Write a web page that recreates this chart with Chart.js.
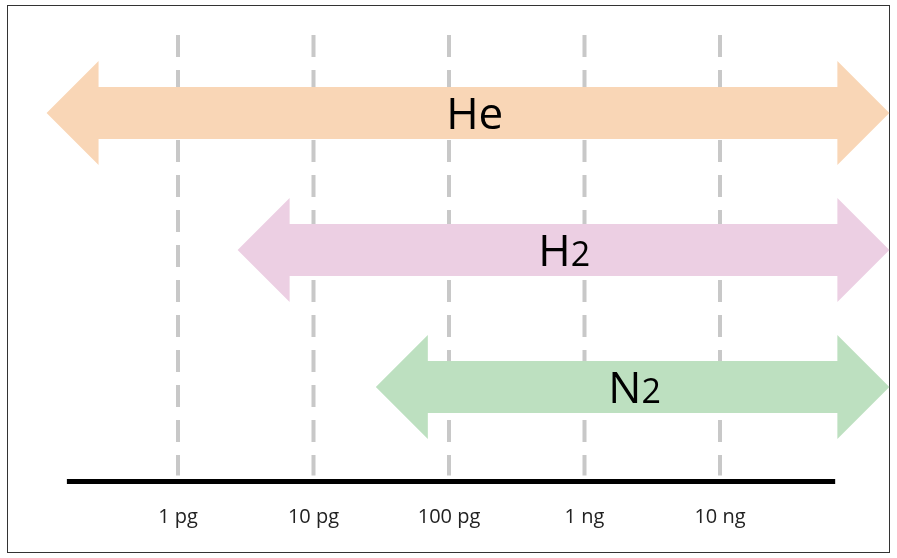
<!DOCTYPE html>
<html>
<head>
<meta charset="utf-8">
<script src="https://cdn.jsdelivr.net/npm/chart.js@4"></script>
<style>
  html, body { margin: 0; padding: 0; background: #fff; }
  #wrap { width: 897px; height: 558px; }
</style>
</head>
<body>
<div id="wrap"><canvas id="chart"></canvas></div>
<script>
// rows, log10 of mass in pg (0 = 1 pg)
const gases = ['He', 'H2', 'N2'];
const rowPos = [3, 2, 1];
const rangeStart = [-0.97, 0.44, 1.46];
const rangeEnd = [5.25, 5.25, 5.25];
const labelPos = [2.19, 2.85, 3.37];
const colors = ['#f9d6b6', '#eccfe3', '#bde0c0'];
const tickPos = [0, 1, 2, 3, 4];
const tickLabels = ['1 pg', '10 pg', '100 pg', '1 ng', '10 ng'];
const axisFrom = -0.82, axisTo = 4.85, axisRow = 0.31, labelRow = 0.05, gridTop = 3.57;

const drawPlugin = {
    id: 'arrows',
    beforeDatasetsDraw(chart) {
        let ctx = chart.ctx;
        let x = chart.scales.x, y = chart.scales.y;
        ctx.save();
        // frame
        ctx.strokeStyle = '#333';
        ctx.lineWidth = 1;
        ctx.strokeRect(7.5, 5.5, 882, 547);
        // dashed grid
        ctx.strokeStyle = '#c8c8c8';
        ctx.lineWidth = 4;
        ctx.setLineDash([22, 13]);
        tickPos.forEach(t => {
            ctx.beginPath();
            ctx.moveTo(x.getPixelForValue(t), y.getPixelForValue(gridTop));
            ctx.lineTo(x.getPixelForValue(t), y.getPixelForValue(axisRow) - 6);
            ctx.stroke();
        });
        ctx.setLineDash([]);
        // axis line
        ctx.strokeStyle = '#000';
        ctx.lineWidth = 5;
        ctx.beginPath();
        ctx.moveTo(x.getPixelForValue(axisFrom), y.getPixelForValue(axisRow));
        ctx.lineTo(x.getPixelForValue(axisTo), y.getPixelForValue(axisRow));
        ctx.stroke();
        // tick labels
        ctx.fillStyle = '#222';
        ctx.font = '20px "Open Sans", sans-serif';
        ctx.textAlign = 'center';
        ctx.textBaseline = 'middle';
        tickPos.forEach((t, i) => {
            ctx.fillText(tickLabels[i], x.getPixelForValue(t), y.getPixelForValue(labelRow));
        });
        // arrows
        gases.forEach((g, i) => {
            let x0 = x.getPixelForValue(rangeStart[i]);
            let x1 = x.getPixelForValue(rangeEnd[i]);
            let cy = y.getPixelForValue(rowPos[i]);
            let shaft = 26, head = 52, hl = 52;
            ctx.fillStyle = colors[i];
            ctx.beginPath();
            ctx.moveTo(x0, cy);
            ctx.lineTo(x0 + hl, cy - head);
            ctx.lineTo(x0 + hl, cy - shaft);
            ctx.lineTo(x1 - hl, cy - shaft);
            ctx.lineTo(x1 - hl, cy - head);
            ctx.lineTo(x1, cy);
            ctx.lineTo(x1 - hl, cy + head);
            ctx.lineTo(x1 - hl, cy + shaft);
            ctx.lineTo(x0 + hl, cy + shaft);
            ctx.lineTo(x0 + hl, cy + head);
            ctx.closePath();
            ctx.fill();
            // label
            let cx = x.getPixelForValue(labelPos[i]);
            ctx.fillStyle = '#000';
            ctx.textAlign = 'left';
            ctx.textBaseline = 'alphabetic';
            let main = g.replace('2', '');
            ctx.font = '44px "Open Sans", sans-serif';
            let w1 = ctx.measureText(main).width;
            let sub = g.includes('2') ? '2' : '';
            ctx.font = '34px "Open Sans", sans-serif';
            let w2 = sub ? ctx.measureText(sub).width : 0;
            let sx = cx - (w1 + w2) / 2;
            ctx.font = '44px "Open Sans", sans-serif';
            ctx.fillText(main, sx, cy + 16);
            ctx.font = '34px "Open Sans", sans-serif';
            if (sub) ctx.fillText(sub, sx + w1, cy + 16);
        });
        ctx.restore();
    }
};

new Chart(document.getElementById('chart'), {
    type: 'scatter',
    data: { datasets: [{ data: [], pointRadius: 0 }] },
    options: {
        responsive: true,
        maintainAspectRatio: false,
        animation: false,
        layout: { padding: 0 },
        plugins: { legend: { display: false }, tooltip: { enabled: false } },
        scales: {
            x: { type: 'linear', display: false, min: -178 / 135.5, max: 719 / 135.5 },
            y: { type: 'linear', display: false, min: 3 - 445 / 137, max: 3 + 113 / 137 }
        }
    },
    plugins: [drawPlugin]
});
</script>
</body>
</html>
